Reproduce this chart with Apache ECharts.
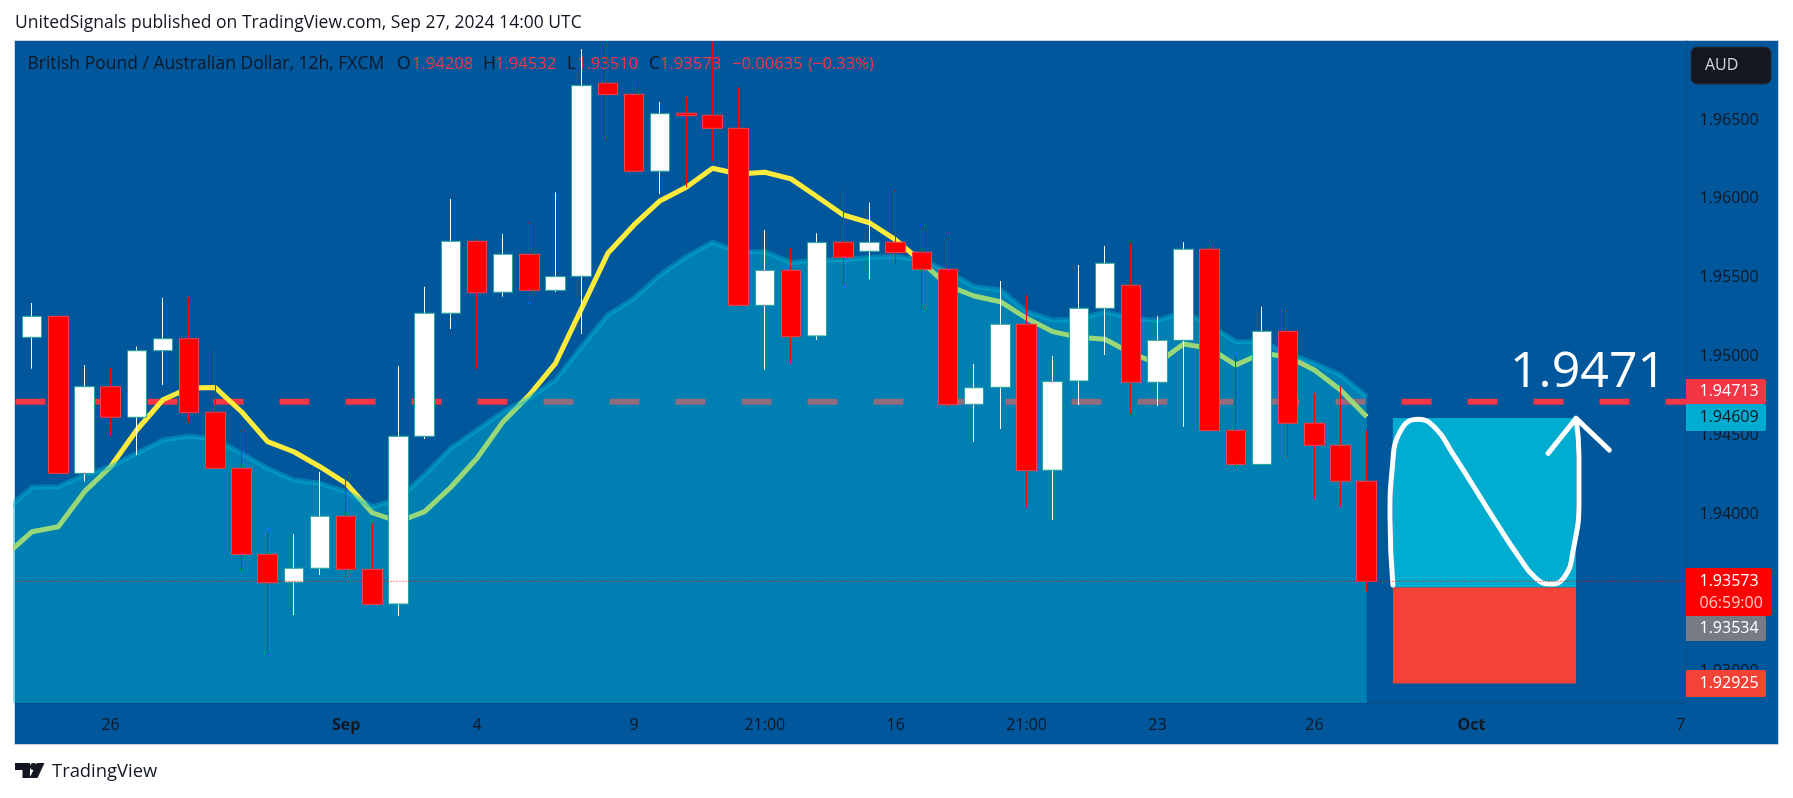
<!DOCTYPE html>
<html>
<head>
<meta charset="utf-8">
<style>
html,body{margin:0;padding:0;background:#fff;width:1793px;height:798px;overflow:hidden}
#panel{position:absolute;left:15px;top:41px;width:1763px;height:703px;background:#00579b;box-shadow:0 0 0 1px #c9d2e0}
#main,#tags{position:absolute;left:0;top:0;width:1793px;height:798px}
#tags{pointer-events:none}
</style>
<script src="https://cdn.jsdelivr.net/npm/echarts@6/dist/echarts.min.js"></script>
</head>
<body>
<div id="panel"></div>
<div id="main"></div>
<div id="tags"></div>
<script>
// GBP/AUD 12h candles
const opens = [1.95121,1.95254,1.94258,1.94808,1.94614,1.95036,1.95112,1.94646,1.9429,1.93744,1.93567,1.93656,1.93986,1.93649,1.93429,1.94493,1.95274,1.9573,1.95407,1.95648,1.95419,1.95508,1.96733,1.96663,1.96175,1.96543,1.9653,1.96447,1.95324,1.95546,1.9513,1.95724,1.95667,1.95724,1.95661,1.95553,1.94696,1.94804,1.95204,1.94278,1.94844,1.95305,1.95451,1.94836,1.95102,1.9568,1.94531,1.94315,1.95159,1.94576,1.94436,1.94208];
const closes = [1.95254,1.94258,1.94808,1.94614,1.95036,1.95112,1.94643,1.9429,1.93744,1.93564,1.93656,1.93986,1.93649,1.93427,1.94493,1.95274,1.9573,1.95404,1.95648,1.95419,1.95506,1.96718,1.96661,1.96175,1.9654,1.96527,1.96447,1.95324,1.95546,1.95125,1.95722,1.95629,1.95724,1.95658,1.95553,1.94694,1.94801,1.95204,1.94275,1.9484,1.95305,1.95591,1.94836,1.95102,1.9568,1.94529,1.94315,1.95159,1.94576,1.94436,1.94208,1.93573];
const highs = [1.95339,1.95263,1.94945,1.94928,1.95062,1.95371,1.95375,1.9503,1.94533,1.93888,1.93873,1.94268,1.94254,1.93941,1.94939,1.95442,1.95999,1.95743,1.95777,1.95848,1.96041,1.96949,1.96995,1.96754,1.96614,1.96644,1.96995,1.96708,1.95802,1.95686,1.95781,1.96045,1.95975,1.96056,1.95823,1.95749,1.94952,1.95478,1.9539,1.95003,1.9558,1.95701,1.95718,1.95256,1.95724,1.95701,1.95005,1.95314,1.95299,1.94766,1.94812,1.94532];
const lows = [1.94922,1.94258,1.94205,1.94497,1.94374,1.94819,1.94582,1.9429,1.93638,1.93112,1.93359,1.93613,1.93596,1.93427,1.93353,1.94476,1.95174,1.94918,1.95379,1.95341,1.95409,1.95142,1.96369,1.96175,1.96031,1.96073,1.96238,1.95324,1.94914,1.94956,1.95104,1.95453,1.95489,1.95586,1.95294,1.94681,1.94457,1.94539,1.9404,1.93962,1.94692,1.95009,1.94635,1.94685,1.94554,1.94529,1.94294,1.94315,1.9436,1.94095,1.94046,1.9351];
// moving averages, first value lies one bar left of the first candle
const fastMA = [1.9374,1.93888,1.93919,1.94142,1.943,1.94533,1.94725,1.948,1.94802,1.94649,1.94459,1.94395,1.943,1.94195,1.94008,1.93951,1.94015,1.9417,1.94354,1.94586,1.94755,1.94956,1.95305,1.95654,1.95834,1.95988,1.96073,1.96194,1.96157,1.96168,1.96126,1.96013,1.95897,1.95848,1.95739,1.95599,1.95447,1.95383,1.95347,1.95242,1.95157,1.95121,1.95109,1.9502,1.94956,1.95079,1.95051,1.94945,1.9502,1.94998,1.94914,1.94787,1.94617];
const slowMA = [1.94025,1.9417,1.94173,1.94248,1.943,1.94385,1.9447,1.94495,1.94474,1.94385,1.9429,1.94216,1.94195,1.94142,1.94046,1.94095,1.94248,1.94417,1.94533,1.94649,1.94736,1.9485,1.95062,1.95263,1.95369,1.95517,1.95633,1.95724,1.95664,1.95664,1.95595,1.95612,1.95612,1.95629,1.95633,1.95612,1.95538,1.95442,1.95421,1.95284,1.9523,1.95235,1.95284,1.95242,1.95227,1.95284,1.95199,1.95093,1.95093,1.9502,1.94956,1.94882,1.94744];
const priceTicks = [1.93,1.935,1.94,1.945,1.95,1.955,1.96,1.965];
const timeTickBars = [3,12,17,23,28,33,38,43,49,55,63];
const timeTickLabels = ['26','Sep','4','9','21:00','16','21:00','23','26','Oct','7'];
const boldTimeLabels = ['Sep','Oct'];
const resistance = 1.94713;
const lastClose = 1.93573;
const targetBox = [52,59,1.94609,1.93534];
const stopBox = [52,59,1.93534,1.92925];
const waveX = [52,51.89,51.98,52.31,52.97,53.63,54.28,55.05,55.93,56.81,57.47,58.01,58.56,58.89,59.11,59.11,59];
const waveY = [1.9355,1.93983,1.943,1.94533,1.94601,1.94544,1.94385,1.94184,1.93951,1.93729,1.93592,1.93556,1.93602,1.93772,1.94089,1.94364,1.94607];
const arrowX = [57.93,59,60.27];
const arrowY = [1.94385,1.94607,1.94406];
const xMin = -0.634, xMax = 63.2, yMin = 1.92801, yMax = 1.97001;

const chart = echarts.init(document.getElementById('main'), null, {renderer:'canvas'});
const barIdx = opens.map((_, i) => i);
const wickData = barIdx.map(i => [i, opens[i], closes[i], lows[i], highs[i]]);
const bodyData = barIdx.map(i => [i, opens[i], closes[i], Math.min(opens[i],closes[i]), Math.max(opens[i],closes[i])]);
const maPts = a => a.map((v,i) => [i-1, v]);
const FONT = '"Open Sans", sans-serif';
const INK = '#131722';
const TEXT_FONT = '17.5px '+FONT;
const NUM_FONT = '16.6px '+FONT;

const legendBits = [
  ['British Pound / Australian Dollar, 12h, FXCM',27.5,INK,TEXT_FONT],
  ['O',397,INK,TEXT_FONT],['1.94208',412,'#f23645',NUM_FONT],
  ['H',483,INK,TEXT_FONT],['1.94532',495,'#f23645',NUM_FONT],
  ['L',567,INK,TEXT_FONT],['1.93510',577,'#f23645',NUM_FONT],
  ['C',649,INK,TEXT_FONT],['1.93573',660,'#f23645',NUM_FONT],
  ['\u22120.00635',732,'#f23645',NUM_FONT],['(\u22120.33%)',808,'#f23645',NUM_FONT]
];
const tags = [
  {y:379,h:25,w:80,fill:'#f23645',text:'1.94713',color:'#fff'},
  {y:404,h:27,w:80,fill:'#00acd0',text:'1.94609',color:'#131722'},
  {y:616,h:25,w:80,fill:'#787b86',text:'1.93534',color:'#fff'},
  {y:670,h:27,w:80,fill:'#f44336',text:'1.92925',color:'#fff'}
];
const gfx = [];
gfx.push({type:'text',x:15,y:23,style:{text:'UnitedSignals published on TradingView.com, Sep 27, 2024 14:00 UTC',font:TEXT_FONT,fill:INK,textVerticalAlign:'middle'}});
legendBits.forEach(b => gfx.push({type:'text',x:b[1],y:64,style:{text:b[0],font:b[3],fill:b[2],textVerticalAlign:'middle'}}));
gfx.push({type:'rect',shape:{x:1691,y:47,width:80,height:37,r:6},style:{fill:'#131722',stroke:'#2a2e39',lineWidth:1}});
gfx.push({type:'text',x:1705,y:65.5,style:{text:'AUD',font:'16px '+FONT,fill:'#d1d4dc',textVerticalAlign:'middle'}});
gfx.push({type:'text',x:1510,y:373,style:{text:'1.9471',font:'500 50px '+FONT,fill:'#fff',textVerticalAlign:'middle'}});
// TradingView logo
gfx.push({type:'polygon',shape:{points:[[15,763],[30,763],[30,778],[22.5,778],[22.5,770],[15,770]]},style:{fill:INK}});
gfx.push({type:'circle',shape:{cx:33.5,cy:766.5,r:3.5},style:{fill:INK}});
gfx.push({type:'polygon',shape:{points:[[37,763],[44.5,763],[37.5,778],[29.5,778]]},style:{fill:INK}});
gfx.push({type:'text',x:52,y:772,style:{text:'TradingView',font:'18.4px '+FONT,fill:INK,textVerticalAlign:'middle'}});

// price tags sit on a transparent layer above the axis labels
const tagGfx = [];
tags.forEach(t => {
  tagGfx.push({type:'rect',shape:{x:1686,y:t.y,width:t.w,height:t.h,r:[0,2,2,0]},style:{fill:t.fill}});
  tagGfx.push({type:'text',x:1699.5,y:t.y+t.h/2,style:{text:t.text,font:'16px '+FONT,fill:t.color,textVerticalAlign:'middle'}});
});
tagGfx.push({type:'rect',shape:{x:1686,y:568,width:86,height:48,r:[0,3,3,0]},style:{fill:'#ff0000'}});
tagGfx.push({type:'text',x:1699.5,y:581.5,style:{text:'1.93573',font:'16px '+FONT,fill:'#fff',textVerticalAlign:'middle'}});
tagGfx.push({type:'text',x:1699.5,y:603,style:{text:'06:59:00',font:'16px '+FONT,fill:'#ffc9c9',textVerticalAlign:'middle'}});
echarts.init(document.getElementById('tags'), null, {renderer:'canvas'}).setOption({
  animation:false,backgroundColor:'transparent',graphic:{elements:tagGfx}
});

chart.setOption({
  animation:false,
  backgroundColor:'transparent',
  grid:{left:15.5,right:107,top:41,bottom:95,containLabel:false},
  xAxis:{type:'value',min:xMin,max:xMax,
    axisLine:{show:true,onZero:false,lineStyle:{color:'#0a4c86',width:1}},
    axisTick:{show:false},splitLine:{show:false},
    axisLabel:{customValues:timeTickBars,margin:14,color:INK,fontFamily:'"Open Sans", sans-serif',fontSize:16,hideOverlap:false,
      showMinLabel:true,showMaxLabel:true,
      formatter:v => { const s = timeTickLabels[timeTickBars.indexOf(v)] || ''; return boldTimeLabels.includes(s) ? '{b|'+s+'}' : s; },
      rich:{b:{fontWeight:'bold',fontSize:16,fontFamily:'"Open Sans", sans-serif',color:INK}}}
  },
  yAxis:{type:'value',position:'right',min:yMin,max:yMax,scale:true,
    axisLine:{show:true,onZero:false,lineStyle:{color:'#0a4c86',width:1}},
    axisTick:{show:false},splitLine:{show:false},
    axisLabel:{customValues:priceTicks,margin:13.5,color:INK,fontFamily:'"Open Sans", sans-serif',fontSize:16,
      showMinLabel:true,showMaxLabel:true,hideOverlap:false,formatter:v => v.toFixed(5)}
  },
  graphic:{z:100,elements:gfx},
  series:[
    {name:'Level',type:'line',z:1,symbol:'none',silent:true,data:[[xMin,resistance],[xMax,resistance]],
      lineStyle:{color:'#f23645',width:6,type:[30,36]}},
    {name:'Fast MA',type:'line',z:2,symbol:'none',data:maPts(fastMA),lineStyle:{color:'#ffeb3b',width:5}},
    {name:'Slow MA',type:'line',z:3,symbol:'none',data:maPts(slowMA),
      lineStyle:{color:'rgba(0,188,212,0.4)',width:5},
      areaStyle:{color:'rgba(0,188,212,0.4)',opacity:1,origin:'start'}},
    {name:'Wicks',type:'candlestick',z:4,barWidth:1,data:wickData,
      itemStyle:{color:'#ffffff',color0:'#ff0000',borderColor:'#ffffff',borderColor0:'#ff0000',borderWidth:1}},
    {name:'Bodies',type:'candlestick',z:5,barWidth:20,data:bodyData,
      itemStyle:{color:'#ffffff',color0:'#ff0000',borderColor:'#26a69a',borderColor0:'#f44346',borderWidth:1}},
    {name:'Target',type:'line',z:6,symbol:'none',data:[],
      markArea:{silent:true,itemStyle:{color:'#00acd0',opacity:1},
        data:[[{coord:[targetBox[0],targetBox[2]]},{coord:[targetBox[1],targetBox[3]]}]]}},
    {name:'Stop',type:'line',z:6,symbol:'none',data:[],
      markArea:{silent:true,itemStyle:{color:'#f44336',opacity:1},
        data:[[{coord:[stopBox[0],stopBox[2]]},{coord:[stopBox[1],stopBox[3]]}]]}},
    {name:'Wave',type:'line',z:7,symbol:'none',smooth:0.5,data:waveX.map((x,i)=>[x,waveY[i]]),
      lineStyle:{color:'#fff',width:5,cap:'round',join:'round'}},
    {name:'Arrow',type:'line',z:7,symbol:'none',data:arrowX.map((x,i)=>[x,arrowY[i]]),
      lineStyle:{color:'#fff',width:5,cap:'round',join:'round'}},
    {name:'Last',type:'line',z:8,symbol:'none',data:[[xMin,lastClose],[xMax,lastClose]],
      lineStyle:{color:'#ff0000',width:1,type:[1,2]}}
  ]
});
</script>
</body>
</html>
